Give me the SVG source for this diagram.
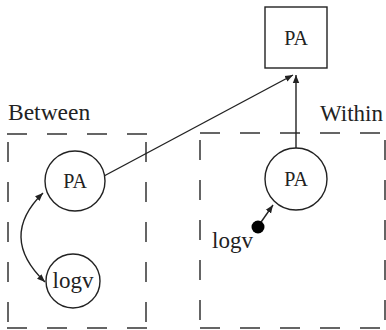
<svg xmlns="http://www.w3.org/2000/svg" width="386" height="330" viewBox="0 0 386 330">
<style>
text{font-family:"Liberation Serif","Times New Roman",serif;fill:#222;}
.node{fill:#fff;stroke:#222;stroke-width:1.4;}
.dash{stroke:#333;stroke-width:1.5;stroke-dasharray:20 20;fill:none;}
.edge{stroke:#222;stroke-width:1.4;fill:none;}
</style>
<defs>
<marker id="ah" viewBox="0 0 10 10" refX="10" refY="5" markerWidth="8" markerHeight="8" markerUnits="userSpaceOnUse" orient="auto-start-reverse">
<path d="M0,1 L10,5 L0,9 Z" fill="#222"/>
</marker>
</defs>
<g id="between">
<line class="dash" x1="7" y1="134" x2="147" y2="134"/>
<line class="dash" x1="7" y1="328" x2="147" y2="328"/>
<line class="dash" x1="8" y1="142" x2="8" y2="328"/>
<line class="dash" x1="146" y1="142" x2="146" y2="328"/>
<text x="8" y="120" font-size="23.5">Between</text>
</g>
<g id="within">
<line class="dash" x1="200" y1="133" x2="386" y2="133"/>
<line class="dash" x1="200" y1="328" x2="386" y2="328"/>
<line class="dash" x1="200" y1="140" x2="200" y2="328"/>
<line class="dash" x1="385" y1="140" x2="385" y2="328"/>
<text x="320" y="121" font-size="23">Within</text>
</g>
<g id="connectors">
<line class="edge" x1="104" y1="176" x2="293" y2="75" marker-end="url(#ah)"/>
<line class="edge" x1="296" y1="148" x2="296" y2="75" marker-end="url(#ah)"/>
<path class="edge" d="M43,193 Q-2,237 45,282" marker-start="url(#ah)" marker-end="url(#ah)"/>
<line class="edge" x1="259" y1="225" x2="273" y2="205" marker-end="url(#ah)"/>
</g>
<g id="pa_top">
<rect class="node" x="265" y="7" width="62" height="61"/>
<text x="296" y="45" font-size="20" text-anchor="middle">PA</text>
</g>
<g id="pa_between">
<circle class="node" cx="75" cy="181" r="30"/>
<text x="75" y="188" font-size="20" text-anchor="middle">PA</text>
</g>
<g id="logv_between">
<circle class="node" cx="73" cy="281" r="27"/>
<text x="73" y="288" font-size="23" text-anchor="middle">logv</text>
</g>
<g id="pa_within">
<circle class="node" cx="296" cy="179" r="31"/>
<text x="296" y="186" font-size="20" text-anchor="middle">PA</text>
</g>
<g id="logv_within">
<circle cx="258" cy="227" r="6.5" fill="#000"/>
<text x="212" y="248" font-size="23">logv</text>
</g>
</svg>
